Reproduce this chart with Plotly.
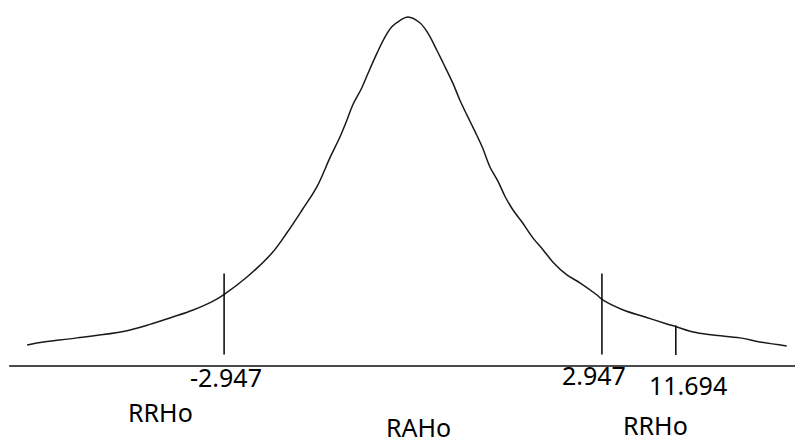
import plotly.graph_objects as go

# Density curve (t-statistic on x, density on y)
curve_t = [-6.02, -5.87, -5.24, -4.52, -4.10, -3.76, -3.43, -3.14, -2.95, -2.59,
           -2.20, -1.97, -1.73, -1.50, -1.29, -1.14, -1.03, -0.94, -0.80,
           -0.70, -0.56, -0.44, -0.33, -0.20, -0.08, 0.11, 0.23, 0.37,
           0.47, 0.62, 0.73, 0.84, 0.97, 1.08, 1.20, 1.33, 1.44, 1.56,
           1.70, 1.87, 2.03, 2.18, 2.40, 2.61, 2.87, 2.96, 3.28, 3.62,
           3.96, 4.12, 4.37, 4.68, 5.10, 5.41, 5.83]
curve_density = [0.0129, 0.0142, 0.0173, 0.0212, 0.0256, 0.0300, 0.0345, 0.0395, 0.0440, 0.0548,
                 0.0696, 0.0819, 0.0961, 0.1103, 0.1288, 0.1411, 0.1516, 0.1608, 0.1713,
                 0.1805, 0.1929, 0.2025, 0.2090, 0.2130, 0.2150, 0.2113, 0.2052, 0.1947,
                 0.1867, 0.1744, 0.1639, 0.1547, 0.1442, 0.1349, 0.1226, 0.1134, 0.1041, 0.0961,
                 0.0887, 0.0789, 0.0715, 0.0641, 0.0561, 0.0511, 0.0437, 0.0407, 0.0345, 0.0302,
                 0.0259, 0.0240, 0.0209, 0.0191, 0.0173, 0.0148, 0.0123]

# Horizontal axis line
axis_t = [-6.30, 5.96]

# Critical values and the observed statistic marker
critical_values = [-2.947, 2.947]
critical_top = 0.057
critical_bottom = 0.007
stat_position = 4.10
stat_top = 0.025
stat_bottom = 0.0068

# Text labels: (text, t position, y position)
label_text = ["-2.947", "2.947", "11.694", "RRHo", "RAHo", "RRHo"]
label_t = [-2.92, 2.83, 4.29, -3.94, 0.08, 3.78]
label_y = [-0.0068, -0.0055, -0.0117, -0.0286, -0.0378, -0.0366]

fig = go.Figure()

fig.add_trace(go.Scatter(
    x=axis_t, y=[0, 0], mode="lines",
    line=dict(color="#4a4a4a", width=2), hoverinfo="skip"))

fig.add_trace(go.Scatter(
    x=curve_t, y=curve_density, mode="lines",
    line=dict(color="#1a1a1a", width=1.5, shape="spline", smoothing=1.0),
    hoverinfo="skip"))

vx, vy = [], []
for c in critical_values:
    vx += [c, c, None]
    vy += [critical_bottom, critical_top, None]
vx += [stat_position, stat_position, None]
vy += [stat_bottom, stat_top, None]
fig.add_trace(go.Scatter(
    x=vx, y=vy, mode="lines",
    line=dict(color="#000000", width=1.5), hoverinfo="skip"))

for txt, tx, ty in zip(label_text, label_t, label_y):
    fig.add_annotation(
        x=tx, y=ty, text=txt, showarrow=False,
        xanchor="center", yanchor="middle",
        font=dict(family="Noto Sans", size=25, color="#000000"))

fig.update_layout(
    width=795, height=438,
    margin=dict(l=0, r=0, t=0, b=0),
    paper_bgcolor="white", plot_bgcolor="white",
    showlegend=False,
    xaxis=dict(range=[-6.443, 5.959], visible=False, fixedrange=True),
    yaxis=dict(range=[-0.0444, 0.2255], visible=False, fixedrange=True),
)

fig.write_html("out.html")
